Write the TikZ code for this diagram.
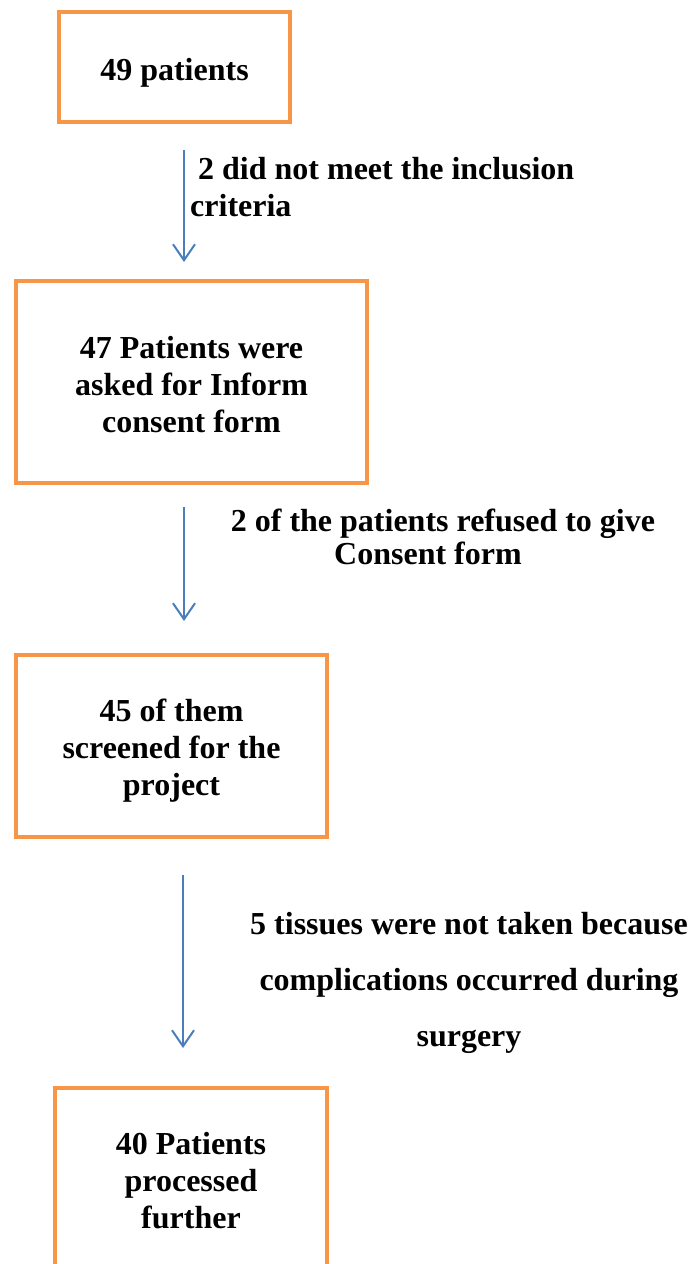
\documentclass[tikz,border=0pt]{standalone}
\usepackage{fontspec}
\setmainfont{Liberation Serif}
\usetikzlibrary{arrows.meta}
\definecolor{boxorange}{HTML}{F79646}
\definecolor{arrowblue}{HTML}{4A7EBB}
\begin{document}
\begin{tikzpicture}[x=1pt,y=-1pt,
  stepbox/.style={draw=boxorange,line width=4pt,fill=white,inner sep=0pt},
  boxtext/.style={align=center,inner sep=0pt,font=\fontsize{32}{37}\selectfont\bfseries},
  flowarrow/.style={draw=arrowblue,line width=2pt,-{Straight Barb[length=16pt,width=22pt,line width=2pt]}},
  note/.style={inner sep=0pt,font=\fontsize{32}{37}\selectfont\bfseries}]
\useasboundingbox (0,0) rectangle (694,1264);
\clip (0,0) rectangle (694,1264);
\node[stepbox,minimum width=231pt,minimum height=110pt] (b1) at (174.5,67) {};
\node[stepbox,minimum width=351pt,minimum height=202pt] (b2) at (191.5,382) {};
\node[stepbox,minimum width=311pt,minimum height=182pt] (b3) at (171.5,746) {};
\node[stepbox,minimum width=272pt,minimum height=186pt] (b4) at (191,1181) {};
\node[boxtext] (t1) at ([yshift=-6pt]b1.center) {49 patients};
\node[boxtext] (t2) at ([yshift=-3pt]b2.center) {47 Patients were\\asked for Inform\\consent form};
\node[boxtext] (t3) at ([yshift=-5pt]b3.center) {45 of them\\screened for the\\project};
\node[boxtext] (t4) at (b4.center) {40 Patients\\processed\\further};
\coordinate (a1s) at (184,150);
\coordinate (a1e) at (184,262);
\coordinate (a2s) at (184,507);
\coordinate (a2e) at (184,621);
\coordinate (a3s) at (183,875);
\coordinate (a3e) at (183,1048);
\draw[flowarrow] (a1s) -- (a1e);
\draw[flowarrow] (a2s) -- (a2e);
\draw[flowarrow] (a3s) -- (a3e);
\node[note,align=left,anchor=west] (l1) at (190,187.5) {\hspace*{8pt}2 did not meet the inclusion\\criteria};
\node[note,align=center,font=\fontsize{32}{33}\selectfont\bfseries] (l2) at (443,537) {2 of the patients refused to give\\Consent form\hspace*{30pt}};
\node[note,align=center,font=\fontsize{32}{56}\selectfont\bfseries] (l3) at (469,983) {5 tissues were not taken because\\complications occurred during\\surgery};
\end{tikzpicture}
\end{document}
